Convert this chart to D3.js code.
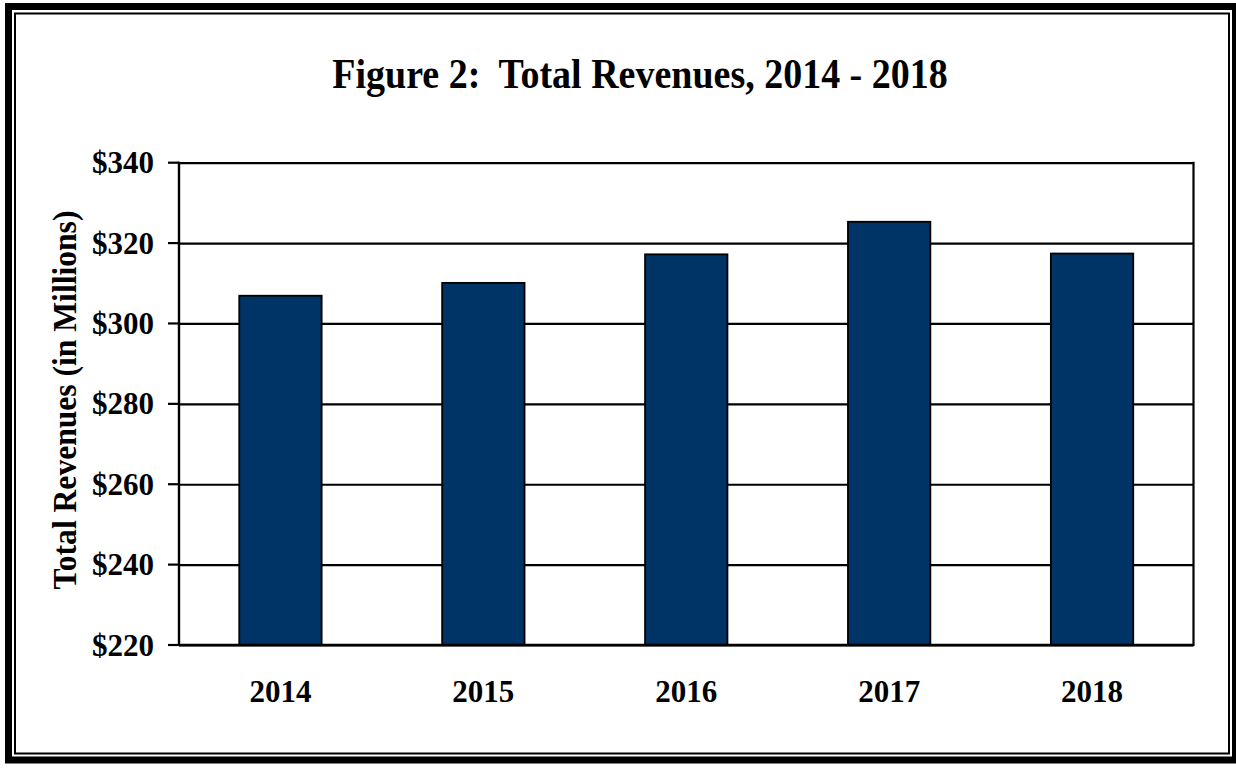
<!DOCTYPE html>
<html>
<head>
<meta charset="utf-8">
<script src="https://cdn.jsdelivr.net/npm/d3@7"></script>
<style>
  html, body { margin: 0; padding: 0; background: #fff; }
  svg { display: block; }
  text { font-family: "Liberation Serif", "Times New Roman", serif; font-weight: bold; fill: #000; }
</style>
</head>
<body>
<svg id="chart" width="1236" height="773"></svg>
<script>
const years = ["2014", "2015", "2016", "2017", "2018"];
const revenues = [306.9, 310.1, 317.2, 325.3, 317.4];
const yTicks = [220, 240, 260, 280, 300, 320, 340];
const titleText = "Figure 2:  Total Revenues, 2014 - 2018";
const yLabelText = "Total Revenues (in Millions)";

const svg = d3.select("#chart");
const W = 1236, H = 773;

svg.append("rect").attr("width", W).attr("height", H).attr("fill", "#fff");

// double frame
svg.append("rect").attr("x", 8.5).attr("y", 6.5).attr("width", 1227).attr("height", 753.5)
  .attr("fill", "none").attr("stroke", "#000").attr("stroke-width", 7);
svg.append("rect").attr("x", 15).attr("y", 13.5).attr("width", 1214).attr("height", 740)
  .attr("fill", "none").attr("stroke", "#000").attr("stroke-width", 2);

const plot = { left: 179, right: 1193.5, top: 162.7, bottom: 645 };

const x = d3.scaleBand().domain(years).range([plot.left, plot.right]).padding(0);
const y = d3.scaleLinear().domain([220, 340]).range([plot.bottom, plot.top]);

// gridlines via axis
const yAxis = d3.axisLeft(y).tickValues(yTicks)
  .tickSize(-(plot.right - plot.left)).tickFormat(d => "$" + d).tickPadding(0);
const gy = svg.append("g").attr("transform", `translate(${plot.left},0)`).call(yAxis);
gy.select(".domain").remove();
gy.selectAll(".tick line").attr("stroke", "#000").attr("stroke-width", 2.2);
gy.selectAll(".tick text").remove();
// outer tick marks
svg.append("g").selectAll("line").data(yTicks).join("line")
  .attr("x1", plot.left - 11).attr("x2", plot.left)
  .attr("y1", d => y(d)).attr("y2", d => y(d))
  .attr("stroke", "#000").attr("stroke-width", 2.2);
svg.append("g").selectAll("text").data(yTicks).join("text")
  .attr("x", 154).attr("y", d => y(d)).attr("dy", "0.34em")
  .attr("text-anchor", "end").style("font-size", "31px")
  .text(d => "$" + d);

// bars
const barW = x.bandwidth() * 0.406;
svg.append("g").selectAll("rect").data(years).join("rect")
  .attr("x", d => x(d) + x.bandwidth() / 2 - barW / 2)
  .attr("y", (d, i) => y(revenues[i]))
  .attr("width", barW)
  .attr("height", (d, i) => y(220) - y(revenues[i]))
  .attr("fill", "#003366").attr("stroke", "#000").attr("stroke-width", 1.8);

// plot frame (left, right, bottom)
svg.append("line").attr("x1", plot.left).attr("x2", plot.left).attr("y1", plot.top - 1).attr("y2", plot.bottom + 1)
  .attr("stroke", "#000").attr("stroke-width", 2.4);
svg.append("line").attr("x1", plot.right).attr("x2", plot.right).attr("y1", plot.top - 1).attr("y2", plot.bottom + 1)
  .attr("stroke", "#000").attr("stroke-width", 2.2);
svg.append("line").attr("x1", plot.left).attr("x2", plot.right).attr("y1", plot.bottom).attr("y2", plot.bottom)
  .attr("stroke", "#000").attr("stroke-width", 2.4);

// x labels
svg.append("g").selectAll("text").data(years).join("text")
  .attr("x", d => x(d) + x.bandwidth() / 2).attr("y", 702)
  .attr("text-anchor", "middle").style("font-size", "31px")
  .text(d => d);

// title
svg.append("text").attr("transform", "translate(640,88) scale(1,1.12)").attr("text-anchor", "middle")
  .style("font-size", "38px").style("white-space", "pre").text(titleText);

// y label
svg.append("text").attr("transform", "translate(76,400) rotate(-90) scale(1,1.08)")
  .attr("text-anchor", "middle").style("font-size", "31.6px").text(yLabelText);
</script>
</body>
</html>
